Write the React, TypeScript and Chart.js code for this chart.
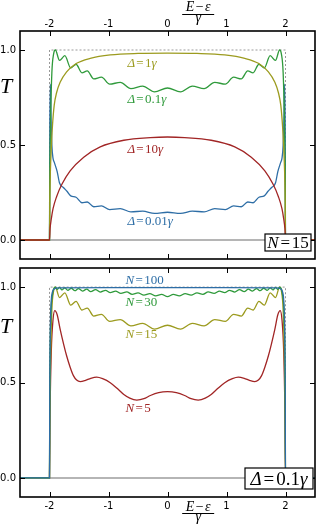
import React, { useEffect, useRef } from "react";
import { Chart, registerables } from "chart.js";

Chart.register(...registerables);

// ---------- tick values ----------
const xTicks = [-2, -1, 0, 1, 2];
const yTicks = [0, 0.5, 1];

// ---------- top panel (N = 15) ----------
const xD001 = [-2.5, -2, -1.995, -1.985, -1.975, -1.96, -1.94, -1.92, -1.87, -1.83, -1.76, -1.70, -1.64, -1.55, -1.45, -1.36, -1.25, -1.12, -0.98, -0.80, -0.62, -0.42, -0.22, 0, 0.22, 0.42, 0.62, 0.80, 0.98, 1.12, 1.25, 1.36, 1.45, 1.55, 1.64, 1.70, 1.76, 1.83, 1.87, 1.92, 1.94, 1.96, 1.975, 1.985, 1.995, 2, 2.5];
const tD001 = [0, 0, 0.55, 0.82, 0.66, 0.5, 0.43, 0.41, 0.36, 0.30, 0.275, 0.255, 0.232, 0.225, 0.196, 0.2, 0.175, 0.18, 0.16, 0.165, 0.148, 0.152, 0.14, 0.146, 0.14, 0.152, 0.148, 0.165, 0.16, 0.18, 0.175, 0.2, 0.196, 0.225, 0.232, 0.255, 0.275, 0.30, 0.36, 0.41, 0.43, 0.5, 0.66, 0.82, 0.55, 0, 0];

// Δ = 0.1γ, N = 15 (same curve appears as N=15 in the lower panel)
const xN15 = [-2.5, -2, -1.995, -1.98, -1.96, -1.93, -1.90, -1.83, -1.74, -1.64, -1.55, -1.45, -1.36, -1.25, -1.12, -0.98, -0.80, -0.62, -0.42, -0.22, 0, 0.22, 0.42, 0.62, 0.80, 0.98, 1.12, 1.25, 1.36, 1.45, 1.55, 1.64, 1.74, 1.83, 1.90, 1.93, 1.96, 1.98, 1.995, 2, 2.5];
const tN15 = [0, 0, 0.3, 0.65, 0.88, 0.98, 1.0, 0.945, 0.97, 0.905, 0.925, 0.88, 0.89, 0.848, 0.857, 0.82, 0.83, 0.797, 0.81, 0.78, 0.80, 0.78, 0.81, 0.797, 0.83, 0.82, 0.857, 0.848, 0.89, 0.88, 0.925, 0.905, 0.97, 0.945, 1.0, 0.98, 0.88, 0.65, 0.3, 0, 0];

const xD1 = [-2.5, -2, -1.995, -1.985, -1.97, -1.95, -1.92, -1.88, -1.82, -1.71, -1.54, -1.31, -0.97, -0.5, 0, 0.5, 0.97, 1.31, 1.54, 1.71, 1.82, 1.88, 1.92, 1.95, 1.97, 1.985, 1.995, 2, 2.5];
const tD1 = [0, 0, 0.2, 0.36, 0.48, 0.6, 0.71, 0.775, 0.83, 0.885, 0.93, 0.956, 0.974, 0.982, 0.984, 0.982, 0.974, 0.956, 0.93, 0.885, 0.83, 0.775, 0.71, 0.6, 0.48, 0.36, 0.2, 0, 0];

const xD10 = [-2.5, -2, -1.99, -1.97, -1.94, -1.88, -1.79, -1.65, -1.42, -1.14, -0.74, -0.29, 0, 0.29, 0.74, 1.14, 1.42, 1.65, 1.79, 1.88, 1.94, 1.97, 1.99, 2, 2.5];
const tD10 = [0, 0, 0.06, 0.11, 0.165, 0.228, 0.293, 0.364, 0.436, 0.49, 0.525, 0.539, 0.542, 0.539, 0.525, 0.49, 0.436, 0.364, 0.293, 0.228, 0.165, 0.11, 0.06, 0, 0];

// ---------- bottom panel (Δ = 0.1γ) ----------
const xN100 = [-2.5, -2, -1.995, -1.985, -1.97, -1.95, -1.92, -1.85, -1, 0, 1, 1.85, 1.92, 1.95, 1.97, 1.985, 1.995, 2, 2.5];
const tN100 = [0, 0, 0.5, 0.8, 0.93, 0.975, 0.99, 0.996, 0.997, 0.997, 0.997, 0.996, 0.99, 0.975, 0.93, 0.8, 0.5, 0, 0];

const xN30 = [-2.5, -2, -1.995, -1.985, -1.97, -1.95, -1.93, -1.90, -1.87, -1.83, -1.79, -1.74, -1.69, -1.63, -1.57, -1.51, -1.44, -1.37, -1.30, -1.22, -1.14, -1.05, -0.97, -0.88, -0.79, -0.69, -0.60, -0.50, -0.40, -0.30, -0.20, -0.10, 0, 0.10, 0.20, 0.30, 0.40, 0.50, 0.60, 0.69, 0.79, 0.88, 0.97, 1.05, 1.14, 1.22, 1.30, 1.37, 1.44, 1.51, 1.57, 1.63, 1.69, 1.74, 1.79, 1.83, 1.87, 1.90, 1.93, 1.95, 1.97, 1.985, 1.995, 2, 2.5];
const tN30 = [0, 0, 0.45, 0.75, 0.9, 0.96, 0.99, 1.0, 0.988, 0.998, 0.985, 0.996, 0.983, 0.994, 0.981, 0.992, 0.979, 0.989, 0.976, 0.987, 0.974, 0.983, 0.971, 0.979, 0.967, 0.975, 0.962, 0.97, 0.958, 0.966, 0.954, 0.962, 0.95, 0.962, 0.954, 0.966, 0.958, 0.97, 0.962, 0.975, 0.967, 0.979, 0.971, 0.983, 0.974, 0.987, 0.976, 0.989, 0.979, 0.992, 0.981, 0.994, 0.983, 0.996, 0.985, 0.998, 0.988, 1.0, 0.99, 0.96, 0.9, 0.75, 0.45, 0, 0];

const xN5 = [-2.5, -2, -1.99, -1.97, -1.94, -1.91, -1.87, -1.82, -1.76, -1.71, -1.65, -1.595, -1.54, -1.48, -1.40, -1.30, -1.20, -1.10, -0.97, -0.85, -0.74, -0.64, -0.52, -0.40, -0.29, -0.15, 0, 0.15, 0.29, 0.40, 0.52, 0.64, 0.74, 0.85, 0.97, 1.10, 1.20, 1.30, 1.40, 1.48, 1.54, 1.595, 1.65, 1.71, 1.76, 1.82, 1.87, 1.91, 1.94, 1.97, 1.99, 2, 2.5];
const tN5 = [0, 0, 0.35, 0.66, 0.83, 0.877, 0.855, 0.78, 0.70, 0.64, 0.58, 0.536, 0.513, 0.505, 0.510, 0.522, 0.528, 0.52, 0.499, 0.468, 0.437, 0.418, 0.408, 0.415, 0.432, 0.447, 0.452, 0.447, 0.432, 0.415, 0.408, 0.418, 0.437, 0.468, 0.499, 0.52, 0.528, 0.522, 0.510, 0.505, 0.513, 0.536, 0.58, 0.64, 0.70, 0.78, 0.855, 0.877, 0.83, 0.66, 0.35, 0, 0];

// guide lines
const guideX = [-2, -2, 2, 2];
const guideT = [0, 1, 1, 0];
const baseX = [-2, 2];
const baseT = [0, 0];

// ---------- styles ----------
const COL = {
  blue: "#2e6ea6",
  green: "#2f9a3b",
  olive: "#9c9b1f",
  red: "#a12525",
  gray: "#b5b5b5",
  dot: "#999999",
};
const SERIF = '"Liberation Serif", "DejaVu Serif", serif';
const SANS = '"DejaVu Sans", sans-serif';

type Seg = { t: string; it?: boolean; op?: boolean };

function measureMath(ctx: CanvasRenderingContext2D, segs: Seg[], size: number) {
  const gap = size * 0.1;
  let w = 0;
  const parts = segs.map((s) => {
    ctx.font = `${s.it ? "italic " : ""}${size}px ${SERIF}`;
    const m = ctx.measureText(s.t).width;
    const pad = s.op ? gap : 0;
    w += m + 2 * pad;
    return { s, m, pad };
  });
  return { w, parts };
}

function drawMath(ctx: CanvasRenderingContext2D, segs: Seg[], x: number, y: number, size: number, color: string, align: "left" | "center" = "left") {
  const { w, parts } = measureMath(ctx, segs, size);
  let cx = align === "center" ? x - w / 2 : x;
  ctx.fillStyle = color;
  ctx.textBaseline = "alphabetic";
  ctx.textAlign = "left";
  for (const p of parts) {
    ctx.font = `${p.s.it ? "italic " : ""}${size}px ${SERIF}`;
    ctx.fillText(p.s.t, cx + p.pad, y);
    cx += p.m + 2 * p.pad;
  }
  return w;
}

const D = (n: string): Seg[] => [{ t: "Δ", it: true }, { t: "=", op: true }, { t: n }, { t: "γ", it: true }];
const N = (n: string): Seg[] => [{ t: "N", it: true }, { t: "=", op: true }, { t: n }];

type Lbl = { segs: Seg[]; color: string; x: number; y: number };
type BoxLbl = { segs: Seg[]; size: number; dr: number; db: number; w: number; h: number };
type Frac = { x: number; numDy: number; barDy: number; denDy: number; fromTop: boolean };

function series(xs: number[], ts: number[], color: string, extra: any = {}) {
  return {
    data: xs.map((x, i) => ({ x, y: ts[i] })),
    borderColor: color,
    backgroundColor: color,
    borderWidth: 1.3,
    pointRadius: 0,
    fill: false,
    cubicInterpolationMode: "monotone",
    ...extra,
  };
}

const framePlugin = {
  id: "frameDeco",
  afterDraw(chart: any) {
    const { ctx, chartArea: a, scales } = chart;
    const o = chart.options.plugins.frameDeco;
    ctx.save();
    // inward ticks
    ctx.strokeStyle = "#000";
    ctx.lineWidth = 1;
    ctx.beginPath();
    for (const v of xTicks) {
      const p = Math.round(scales.x.getPixelForValue(v)) + 0.5;
      ctx.moveTo(p, a.top);
      ctx.lineTo(p, a.top + 5);
      ctx.moveTo(p, a.bottom);
      ctx.lineTo(p, a.bottom - 5);
    }
    for (const v of yTicks) {
      const p = Math.round(scales.y.getPixelForValue(v)) + 0.5;
      ctx.moveTo(a.left, p);
      ctx.lineTo(a.left + 5, p);
      ctx.moveTo(a.right, p);
      ctx.lineTo(a.right - 5, p);
    }
    ctx.stroke();
    // frame
    ctx.lineWidth = 1.6;
    ctx.strokeStyle = "#000";
    ctx.strokeRect(a.left, a.top, a.right - a.left, a.bottom - a.top);

    // curve labels
    for (const l of o.labels as Lbl[]) {
      drawMath(ctx, l.segs, scales.x.getPixelForValue(l.x), scales.y.getPixelForValue(l.y), 13, l.color, "left");
    }
    // boxed label
    const b = o.box as BoxLbl;
    const bx = a.right - b.dr - b.w;
    const by = a.bottom - b.db - b.h;
    ctx.fillStyle = "#fff";
    ctx.fillRect(bx, by, b.w, b.h);
    ctx.lineWidth = 1.2;
    ctx.strokeStyle = "#000";
    ctx.strokeRect(bx, by, b.w, b.h);
    drawMath(ctx, b.segs, bx + b.w / 2, by + b.h / 2 + b.size * 0.33, b.size, "#000", "center");

    // T label
    drawMath(ctx, [{ t: "T", it: true }], 0, scales.y.getPixelForValue(o.tY) + 7.5, 22, "#000", "left");

    // fraction axis title
    const f = o.frac as Frac;
    const fx = scales.x.getPixelForValue(f.x);
    const ref = f.fromTop ? a.top : a.bottom;
    drawMath(ctx, [{ t: "E", it: true }, { t: "−", op: true }, { t: "ε", it: true }], fx, ref + f.numDy, 14, "#000", "center");
    ctx.strokeStyle = "#000";
    ctx.lineWidth = 1;
    ctx.beginPath();
    ctx.moveTo(fx - 16, ref + f.barDy);
    ctx.lineTo(fx + 16, ref + f.barDy);
    ctx.stroke();
    drawMath(ctx, [{ t: "γ", it: true }], fx, ref + f.denDy, 14, "#000", "center");
    ctx.restore();
  },
};

function makeConfig(datasets: any[], isTop: boolean, deco: any) {
  return {
    type: "line" as const,
    data: { datasets },
    options: {
      animation: false,
      responsive: false,
      maintainAspectRatio: false,
      devicePixelRatio: 1,
      events: [],
      layout: { padding: isTop ? { left: 0, right: 1, top: 0, bottom: 4 } : { left: 0, right: 1, top: 5, bottom: 0 } },
      plugins: { legend: { display: false }, tooltip: { enabled: false }, frameDeco: deco },
      scales: {
        x: {
          type: "linear",
          position: isTop ? "top" : "bottom",
          min: -2.5,
          max: 2.5,
          afterBuildTicks: (s: any) => {
            s.ticks = xTicks.map((v) => ({ value: v }));
          },
          afterFit: (s: any) => {
            s.height = isTop ? 31 : 30;
            s.paddingLeft = 0;
            s.paddingRight = 0;
            s.paddingTop = 0;
            s.paddingBottom = 0;
          },
          grid: { display: false, drawTicks: false },
          border: { display: false },
          ticks: {
            autoSkip: false,
            maxRotation: 0,
            padding: isTop ? 1 : 3,
            color: "#000",
            font: { family: SANS, size: 10 },
            callback: (v: any) => String(v),
          },
        },
        y: {
          type: "linear",
          min: -0.1,
          max: 1.1,
          afterBuildTicks: (s: any) => {
            s.ticks = yTicks.map((v) => ({ value: v }));
          },
          afterFit: (s: any) => {
            s.width = 20;
            s.paddingLeft = 0;
            s.paddingRight = 0;
            s.paddingTop = 0;
            s.paddingBottom = 0;
          },
          grid: { display: false, drawTicks: false },
          border: { display: false },
          ticks: {
            autoSkip: false,
            padding: 4,
            color: "#000",
            font: { family: SANS, size: 10 },
            callback: (v: any) => Number(v).toFixed(1),
          },
        },
      },
    },
    plugins: [framePlugin],
  };
}

const guideStyle = { borderDash: [2, 2], borderWidth: 1, cubicInterpolationMode: "default", tension: 0 };
const baseStyle = { borderWidth: 2, cubicInterpolationMode: "default", tension: 0 };

export default function App() {
  const topRef = useRef<HTMLCanvasElement>(null);
  const botRef = useRef<HTMLCanvasElement>(null);

  useEffect(() => {
    const topSets = [
      series(xD10, tD10, COL.red),
      series(xD1, tD1, COL.olive),
      series(xN15, tN15, COL.green),
      series(xD001, tD001, COL.blue),
      series(baseX, baseT, COL.gray, baseStyle),
      series(guideX, guideT, COL.dot, guideStyle),
    ];
    const botSets = [
      series(xN100, tN100, COL.blue),
      series(xN30, tN30, COL.green),
      series(xN15, tN15, COL.olive),
      series(xN5, tN5, COL.red),
      series(baseX, baseT, COL.gray, baseStyle),
      series(guideX, guideT, COL.dot, guideStyle),
    ];
    const topDeco = {
      labels: [
        { segs: D("1"), color: COL.olive, x: -0.68, y: 0.913 },
        { segs: D("0.1"), color: COL.green, x: -0.68, y: 0.72 },
        { segs: D("10"), color: COL.red, x: -0.68, y: 0.456 },
        { segs: D("0.01"), color: COL.blue, x: -0.68, y: 0.081 },
      ],
      box: { segs: N("15"), size: 17, dr: 4, db: 8, w: 46, h: 17 },
      tY: 0.815,
      frac: { x: 0.52, numDy: -20, barDy: -16.5, denDy: -9.5, fromTop: true },
    };
    const botDeco = {
      labels: [
        { segs: N("100"), color: COL.blue, x: -0.71, y: 1.018 },
        { segs: N("30"), color: COL.green, x: -0.71, y: 0.902 },
        { segs: N("15"), color: COL.olive, x: -0.71, y: 0.733 },
        { segs: N("5"), color: COL.red, x: -0.71, y: 0.347 },
      ],
      box: { segs: D("0.1"), size: 19, dr: 2, db: 8, w: 68, h: 21 },
      tY: 0.80,
      frac: { x: 0.52, numDy: 14, barDy: 16.5, denDy: 24, fromTop: false },
    };
    const c1 = new Chart(topRef.current as HTMLCanvasElement, makeConfig(topSets, true, topDeco) as any);
    const c2 = new Chart(botRef.current as HTMLCanvasElement, makeConfig(botSets, false, botDeco) as any);
    return () => {
      c1.destroy();
      c2.destroy();
    };
  }, []);

  return (
    <div style={{ position: "absolute", left: 0, top: 0, width: 316, height: 527, background: "#fff" }}>
      <canvas ref={topRef} width={316} height={263} style={{ position: "absolute", left: 0, top: 0, width: 316, height: 263 }} />
      <canvas ref={botRef} width={316} height={264} style={{ position: "absolute", left: 0, top: 263, width: 316, height: 264 }} />
    </div>
  );
}
